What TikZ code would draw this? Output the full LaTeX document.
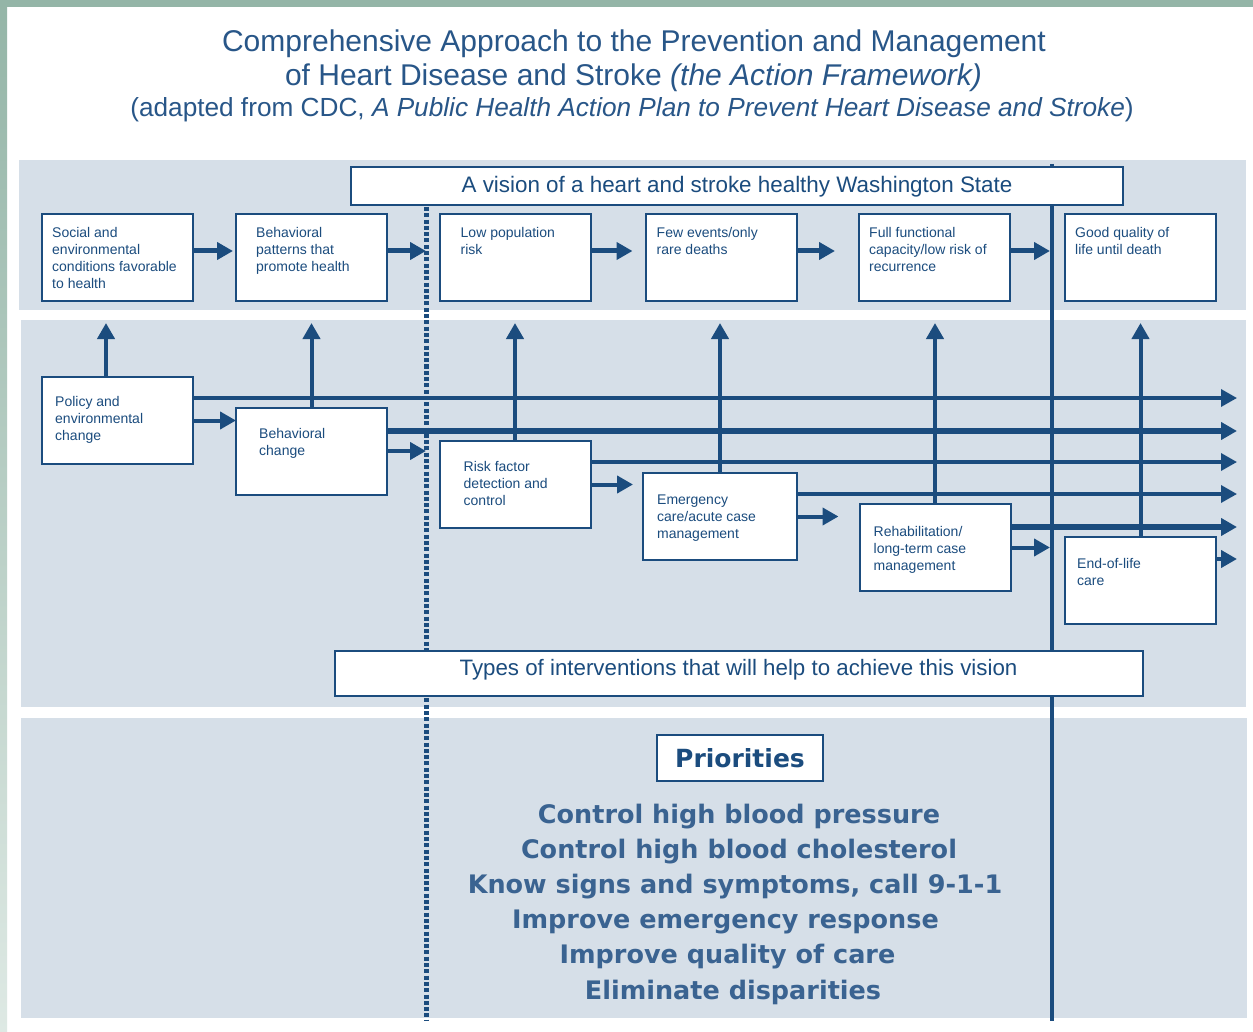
\documentclass[tikz,border=0pt]{standalone}
\usepackage{fontspec}
\setmainfont{Liberation Sans}
\newfontfamily\prfont{DejaVu Sans}
\usetikzlibrary{arrows.meta,calc}
\definecolor{navy}{RGB}{27,76,126}
\definecolor{titleblue}{RGB}{40,86,136}
\definecolor{prioblue}{RGB}{58,99,145}
\definecolor{panelcol}{RGB}{214,223,232}
\definecolor{frametop}{RGB}{148,181,167}
\definecolor{framebot}{RGB}{222,233,228}
\begin{document}
\begin{tikzpicture}[x=1pt,y=-1pt,
  box/.style={draw=navy, line width=2pt, fill=white, minimum width=151pt, minimum height=87pt, inner sep=0pt, outer sep=0pt},
  btext/.style={anchor=north west, inner sep=0pt, align=left, text=navy, font=\fontsize{14}{17}\selectfont},
  barbox/.style={draw=navy, line width=2pt, fill=white, inner sep=0pt, text=navy},
  headtri/.style={-{Triangle[length=16pt,width=17pt]}},
  toparr/.style={draw=navy, line width=5pt, headtri},
  midarr/.style={draw=navy, line width=4pt, headtri},
  uparr/.style={draw=navy, line width=4pt, headtri},
  longthin/.style={draw=navy, line width=3.5pt, headtri},
  longthick/.style={draw=navy, line width=5.5pt, headtri},
  ttl/.style={text=titleblue, inner sep=0pt},
  prio/.style={text=prioblue, inner sep=0pt, font=\prfont\bfseries\fontsize{25.5}{30}\selectfont}
]
\useasboundingbox (0,0) rectangle (1253,1032);
\fill[white] (0,0) rectangle (1253,1032);
% frame strips
\shade[top color=frametop, bottom color=framebot] (0,0) rectangle (7,1032);
\fill[frametop] (0,0) rectangle (1253,7);

% titles
\node[ttl, font=\fontsize{30}{34}\selectfont] (title1) at (634,44) {Comprehensive Approach to the Prevention and Management};
\node[ttl, font=\fontsize{30}{34}\selectfont] (title2) at (633.5,78) {of Heart Disease and Stroke \textit{(the Action Framework)}};
\node[ttl, font=\fontsize{26.2}{30}\selectfont] (title3) at (632,110) {(adapted from CDC, \textit{A Public Health Action Plan to Prevent Heart Disease and Stroke})};

% panels
\fill[panelcol] (19,160) rectangle (1246,310);
\fill[panelcol] (21,320) rectangle (1246,707);
\fill[panelcol] (21,718) rectangle (1247,1018);

% reference coordinates
\coordinate (dash) at (426,0);
\coordinate (solid) at (1052,0);
\coordinate (rightend) at (1237,0);
\coordinate (uptop) at (0,323);

% vertical divider lines
\draw[navy, line width=5pt, dash pattern=on 4pt off 2.3pt] (426,207) -- (426,1020);
\draw[navy, line width=4.5pt] (1052,164) -- (1052,1021);

% boxes (positions)
\path (117.5,257.5) node[box] (A) {};
\path (311.5,257.5) node[box] (B) {};
\path (515,257.5) node[box] (C) {};
\path (721,257.5) node[box] (D) {};
\path (934.5,257.5) node[box] (E) {};
\path (1140.5,257.5) node[box] (F) {};
\path (117.5,420.5) node[box] (P) {};
\path (311.5,451) node[box] (Q) {};
\path (515,484.5) node[box] (R) {};
\path (720,516.5) node[box, minimum width=154pt] (S) {};
\path (935,547.5) node[box] (T) {};
\path (1140.5,580.5) node[box] (U) {};

% helper coordinates
\coordinate (At) at ([yshift=6.5pt]A.east);
\coordinate (Bt) at ([yshift=6.5pt]B.east);
\coordinate (Ct) at ([yshift=6.5pt]C.east);
\coordinate (Dt) at ([yshift=6.5pt]D.east);
\coordinate (Et) at ([yshift=6.5pt]E.east);
\coordinate (Pr) at ([yshift=22.5pt]P.east);
\coordinate (Qr) at ([yshift=20pt]Q.east);
\coordinate (Rr) at ([yshift=22.5pt]R.east);
\coordinate (Sr) at ([yshift=22.5pt]S.east);
\coordinate (Tr) at ([yshift=20.5pt]T.east);
\coordinate (Ur) at ([yshift=21.5pt]U.east);
\coordinate (Pu) at ([xshift=-11.5pt]P.north);

% top row arrows
\draw[toparr, shorten >=3pt] (At) -- (At -| B.west);
\draw[toparr] (Bt) -- (Bt -| dash);
\draw[toparr, shorten >=13pt] (Ct) -- (Ct -| D.west);
\draw[toparr, shorten >=24pt] (Dt) -- (Dt -| E.west);
\draw[toparr, shorten >=2pt] (Et) -- (Et -| solid);

% long horizontal lines
\draw[longthin] (Pr) -- (Pr -| rightend);
\draw[longthick] (Qr) -- (Qr -| rightend);
\draw[longthin] (Rr) -- (Rr -| rightend);
\draw[longthin] (Sr) -- (Sr -| rightend);
\draw[longthick] (Tr) -- (Tr -| rightend);
\draw[midarr] (Ur) -- (Ur -| rightend);

% short middle arrows
\draw[midarr] (P.east) -- (P.east -| Q.west);
\draw[midarr] (Q.east) -- (Q.east -| dash);
\draw[midarr, shorten >=10pt] (R.east) -- (R.east -| S.west);
\draw[midarr, shorten >=21pt] (S.east) -- (S.east -| T.west);
\draw[midarr, shorten >=2pt] (T.east) -- (T.east -| solid);

% upward arrows
\draw[uparr] (Pu) -- (Pu |- uptop);
\draw[uparr] (Q.north) -- (Q.north |- uptop);
\draw[uparr] (R.north) -- (R.north |- uptop);
\draw[uparr] (S.north) -- (S.north |- uptop);
\draw[uparr] (T.north) -- (T.north |- uptop);
\draw[uparr] (U.north) -- (U.north |- uptop);

% redraw boxes on top
\foreach \b in {A,B,C,D,E,F,P,Q,R,S,T,U} {\draw[navy, line width=2pt, fill=white] (\b.north west) rectangle (\b.south east);}

% box texts
\node[btext] (tA) at ($(A.north west)+(10,13.3)$) {Social and\\environmental\\conditions favorable\\to health};
\node[btext] (tB) at ($(B.north west)+(20,13.3)$) {Behavioral\\patterns that\\promote health};
\node[btext] (tC) at ($(C.north west)+(21,13.3)$) {Low population\\risk};
\node[btext] (tD) at ($(D.north west)+(11,13.3)$) {Few events/only\\rare deaths};
\node[btext] (tE) at ($(E.north west)+(10,13.3)$) {Full functional\\capacity/low risk of\\recurrence};
\node[btext] (tF) at ($(F.north west)+(10,13.3)$) {Good quality of\\life until death};
\node[btext] (tP) at ($(P.north west)+(13,19.3)$) {Policy and\\environmental\\change};
\node[btext] (tQ) at ($(Q.north west)+(23,20.3)$) {Behavioral\\change};
\node[btext] (tR) at ($(R.north west)+(24,20.3)$) {Risk factor\\detection and\\control};
\node[btext] (tS) at ($(S.north west)+(14,21.3)$) {Emergency\\care/acute case\\management};
\node[btext] (tT) at ($(T.north west)+(14,22.3)$) {Rehabilitation/\\long-term case\\management};
\node[btext] (tU) at ($(U.north west)+(12,21.3)$) {End-of-life\\care};

% banner boxes
\node[barbox, minimum width=772pt, minimum height=38pt, font=\fontsize{22.4}{26}\selectfont] (vision) at (737,186.5) {A vision of a heart and stroke healthy Washington State};
\node[barbox, minimum width=808pt, minimum height=45pt] (types) at (739,673.5) {};
\node[text=navy, inner sep=0pt, font=\fontsize{22.3}{26}\selectfont] (typestext) at (738.5,670) {Types of interventions that will help to achieve this vision};

% priorities
\node[barbox, minimum width=166pt, minimum height=46pt, font=\prfont\bfseries\fontsize{25}{30}\selectfont] (prio) at (740,758) {Priorities};
\node[prio] (pr1) at (739,817) {Control high blood pressure};
\node[prio] (pr2) at (739,852) {Control high blood cholesterol};
\node[prio] (pr3) at (735,887) {Know signs and symptoms, call 9-1-1};
\node[prio] (pr4) at (725.5,922) {Improve emergency response};
\node[prio] (pr5) at (727.5,957) {Improve quality of care};
\node[prio] (pr6) at (733,992) {Eliminate disparities};
\end{tikzpicture}
\end{document}
